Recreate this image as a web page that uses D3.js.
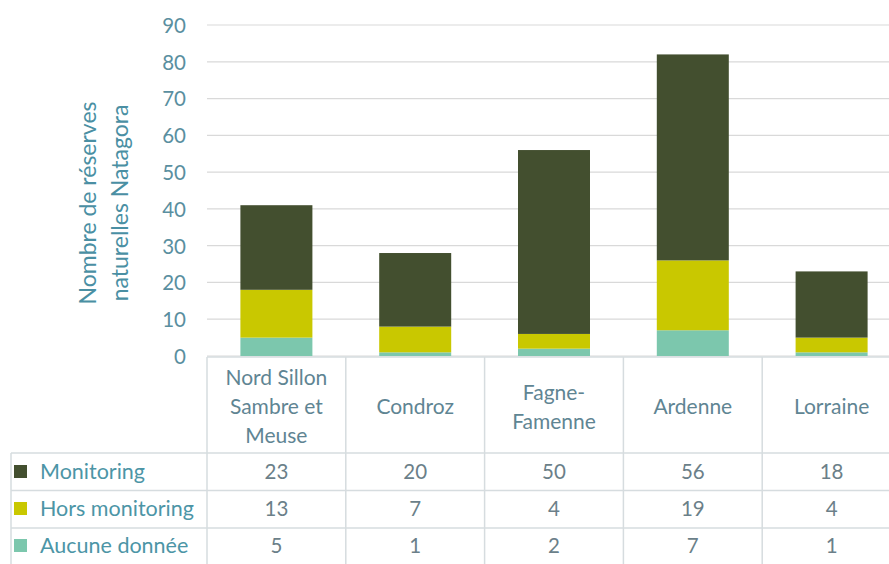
<!DOCTYPE html>
<html><head><meta charset="utf-8">
<script src="https://cdn.jsdelivr.net/npm/d3@7"></script>
<style>body{margin:0;background:#fff}svg{display:block}</style>
</head><body>
<svg id="c" width="889" height="564"></svg>
<script>
const categories = [["Nord Sillon","Sambre et","Meuse"],["Condroz"],["Fagne-","Famenne"],["Ardenne"],["Lorraine"]];
const seriesNames = ["Monitoring","Hors monitoring","Aucune donnée"];
const monitoring = [23,20,50,56,18];
const horsMonitoring = [13,7,4,19,4];
const aucuneDonnee = [5,1,2,7,1];
const yTicks = [0,10,20,30,40,50,60,70,80,90];
const colors = ["#434f2f","#c9c800","#7cc7ad"];

const svg = d3.select("#c");
const font = "Lato, 'Open Sans', sans-serif";
const x0 = 207, bandW = 138.8;
const x = d3.scaleBand().domain(d3.range(5)).range([x0, x0 + bandW*5]).paddingInner(0).paddingOuter(0);
const y = d3.scaleLinear().domain([0,90]).range([356,25]);

// gridlines
svg.append("g").selectAll("line").data(yTicks).join("line")
  .attr("x1", x0).attr("x2", 889).attr("y1", d=>y(d)).attr("y2", d=>y(d))
  .attr("stroke","#d9d9d9").attr("stroke-width",1.2);

// y axis labels
const yAxis = d3.axisLeft(y).tickValues(yTicks).tickSize(0).tickPadding(0);
const ga = svg.append("g").attr("transform","translate(186,0)").call(yAxis);
ga.select(".domain").remove();
ga.selectAll("text").attr("font-family",font).attr("font-size",20.5).attr("fill","#5a8fa0").attr("dy","0.36em");

// axis title
const t = svg.append("text").attr("transform","translate(103,203) rotate(-90)")
  .attr("text-anchor","middle").attr("font-family",font).attr("font-size",23).attr("fill","#4a8fa3");
t.append("tspan").attr("x",0).attr("dy","-0.3em").text("Nombre de réserves");
t.append("tspan").attr("x",0).attr("dy","1.39em").text("naturelles Natagora");

// stacked bars
const rows = d3.range(5).map(i => ({i, a: aucuneDonnee[i], h: horsMonitoring[i], m: monitoring[i]}));
const stack = d3.stack().keys(["a","h","m"])(rows);
const colorByKey = {a: colors[2], h: colors[1], m: colors[0]};
const barW = 72;
svg.append("g").selectAll("g").data(stack).join("g").attr("fill", s => colorByKey[s.key])
  .selectAll("rect").data(s => s).join("rect")
  .attr("x", d => x(d.data.i) + x.bandwidth()/2 - barW/2)
  .attr("width", barW)
  .attr("y", d => y(d[1]))
  .attr("height", d => y(d[0]) - y(d[1]));

// data table
const tableTop = 357, headerBottom = 453, rowH = 37;
const tl = 11;
const gridC = "#d6dcdf";
const tg = svg.append("g");
d3.range(6).forEach(k => {
  const xx = x0 + bandW*k;
  tg.append("line").attr("x1",xx).attr("x2",xx).attr("y1",tableTop).attr("y2",564).attr("stroke",gridC).attr("stroke-width",1.5);
});
tg.append("line").attr("x1",tl).attr("x2",tl).attr("y1",headerBottom).attr("y2",564).attr("stroke",gridC).attr("stroke-width",1.5);
tg.append("line").attr("x1",x0).attr("x2",889).attr("y1",tableTop).attr("y2",tableTop).attr("stroke",gridC).attr("stroke-width",1.5);
[0,1,2].forEach(r => {
  const yy = headerBottom + r*rowH + (r>0? r*0.5:0);
  tg.append("line").attr("x1",tl).attr("x2",889).attr("y1",yy).attr("y2",yy).attr("stroke",gridC).attr("stroke-width",1.5);
});
categories.forEach((lines,i) => {
  const cx = x(i) + x.bandwidth()/2;
  const n = lines.length;
  const lh = 29;
  const startY = 407 - (n-1)*lh/2;
  const tx = tg.append("text").attr("text-anchor","middle").attr("font-family",font).attr("font-size",21).attr("fill","#5f8593");
  lines.forEach((l,j) => tx.append("tspan").attr("x",cx).attr("y",startY + j*lh).attr("dy","0.35em").text(l));
});
const seriesVals = [monitoring, horsMonitoring, aucuneDonnee];
seriesNames.forEach((name,r) => {
  const cy = headerBottom + r*rowH + rowH/2;
  tg.append("rect").attr("x",14).attr("y",cy-6.5).attr("width",13).attr("height",13).attr("fill",colors[r]);
  tg.append("text").attr("x",40).attr("y",cy).attr("dy","0.35em").attr("font-family",font).attr("font-size",21.5)
    .attr("fill","#4c95a6").text(name);
  seriesVals[r].forEach((v,i) => {
    tg.append("text").attr("x", x(i)+x.bandwidth()/2).attr("y",cy).attr("dy","0.35em").attr("text-anchor","middle")
      .attr("font-family",font).attr("font-size",20.5).attr("fill","#6b7f89").text(v);
  });
});
</script>
</body></html>
